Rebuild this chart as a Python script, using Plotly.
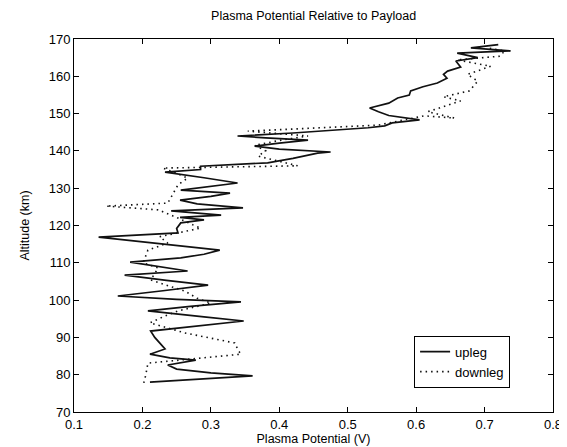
import plotly.graph_objects as go

upleg_alt = [78.0, 79.7, 80.5, 81.5, 82.6, 83.5, 83.9, 84.5, 85.5, 86.9, 88.5, 90.0, 91.7, 93.0,
             94.4, 95.5, 97.1, 98.3, 99.5, 100.2, 101.1, 102.5, 104.0, 105.3, 106.7, 107.8, 108.8,
             110.2, 111.3, 112.3, 113.4, 115.0, 116.9, 118.0, 119.2, 120.7, 121.5, 122.2, 122.8,
             123.9, 124.7, 125.8, 126.8, 127.8, 128.7, 129.5, 130.5, 131.4, 132.8, 134.3, 135.0,
             135.9, 136.8, 138.0, 139.4, 139.7, 140.5, 141.3, 142.1, 142.9, 143.5, 144.0, 144.8,
             145.5, 146.2, 146.7, 147.5, 148.3, 149.5, 150.5, 151.5, 152.8, 154.2, 155.0, 156.1,
             157.2, 158.2, 159.5, 160.5, 161.4, 162.5, 164.1, 165.0, 166.2, 166.8, 167.6, 168.5]
upleg_pp = [0.211, 0.361, 0.300, 0.250, 0.237, 0.265, 0.278, 0.240, 0.211, 0.233, 0.225, 0.218,
            0.212, 0.280, 0.348, 0.290, 0.208, 0.270, 0.344, 0.250, 0.164, 0.230, 0.296, 0.235,
            0.174, 0.266, 0.230, 0.182, 0.256, 0.290, 0.313, 0.230, 0.136, 0.252, 0.250, 0.256,
            0.290, 0.255, 0.315, 0.242, 0.347, 0.280, 0.255, 0.300, 0.328, 0.256, 0.300, 0.339,
            0.290, 0.233, 0.285, 0.285, 0.383, 0.420, 0.456, 0.475, 0.400, 0.364, 0.400, 0.442,
            0.380, 0.339, 0.420, 0.480, 0.530, 0.554, 0.565, 0.605, 0.560, 0.545, 0.532, 0.560,
            0.573, 0.590, 0.592, 0.610, 0.631, 0.645, 0.640, 0.646, 0.665, 0.658, 0.690, 0.660,
            0.738, 0.680, 0.720]

downleg_alt = [77.8, 80.0, 83.1, 85.5, 86.5, 88.5, 91.2, 93.9, 95.5, 97.1, 99.2, 100.5, 102.4,
               105.4, 108.6, 110.0, 113.4, 115.3, 117.0, 119.3, 119.9, 122.0, 124.2, 125.2,
               126.0, 128.5, 130.9, 132.7, 134.0, 135.4, 136.0, 138.6, 140.0, 141.5, 142.8,
               144.0, 145.3, 146.9, 149.4, 148.8, 150.5, 153.4, 154.5, 156.1, 158.7, 160.5,
               162.7, 164.4, 165.4, 166.8, 167.6]
downleg_pp = [0.202, 0.205, 0.208, 0.344, 0.340, 0.335, 0.262, 0.211, 0.230, 0.252, 0.300, 0.280,
              0.262, 0.212, 0.223, 0.201, 0.208, 0.237, 0.225, 0.285, 0.277, 0.252, 0.223, 0.147,
              0.237, 0.245, 0.252, 0.266, 0.250, 0.230, 0.427, 0.369, 0.380, 0.364, 0.400,
              0.442, 0.354, 0.544, 0.612, 0.656, 0.617, 0.665, 0.640, 0.678, 0.690, 0.675,
              0.709, 0.660, 0.723, 0.729, 0.704]

x_ticks = [0.1, 0.2, 0.3, 0.4, 0.5, 0.6, 0.7, 0.8]
y_ticks = [70, 80, 90, 100, 110, 120, 130, 140, 150, 160, 170]

fig = go.Figure()
fig.add_trace(go.Scatter(x=upleg_pp, y=upleg_alt, mode="lines", name="upleg",
                         line=dict(color="#111111", width=1.7)))
fig.add_trace(go.Scatter(x=downleg_pp, y=downleg_alt, mode="lines", name="downleg",
                         line=dict(color="#111111", width=1.6, dash="1.5px,4px")))

axis_common = dict(showline=True, linecolor="black", linewidth=1, mirror="ticks",
                   ticks="inside", ticklen=5, tickcolor="black", showgrid=False,
                   zeroline=False, tickfont=dict(size=13, color="black"))

fig.update_layout(
    width=567, height=447,
    paper_bgcolor="white", plot_bgcolor="white",
    font=dict(family="Liberation Sans, Arial, sans-serif", color="black", size=12),
    margin=dict(l=66, r=22, t=31, b=43),
    title=dict(text="Plasma Potential Relative to Payload", x=0.539, xanchor="center",
               y=0.982, yanchor="middle", font=dict(size=12.5)),
    xaxis=dict(range=[0.1, 0.8], tickvals=x_ticks, ticktext=[f"{v:g}" for v in x_ticks],
               title=dict(text="Plasma Potential (V)", standoff=2, font=dict(size=12.5)),
               **axis_common),
    yaxis=dict(range=[70, 170], tickvals=y_ticks,
               title=dict(text="Altitude (km)", standoff=16, font=dict(size=12.5)),
               **axis_common),
    legend=dict(x=0.71, y=0.19, xanchor="left", yanchor="bottom", bordercolor="black",
                borderwidth=1, bgcolor="white", font=dict(size=13), tracegroupgap=0),
    showlegend=True,
)
fig.update_layout(legend=dict(y=0.065))

fig.write_html("out.html")
